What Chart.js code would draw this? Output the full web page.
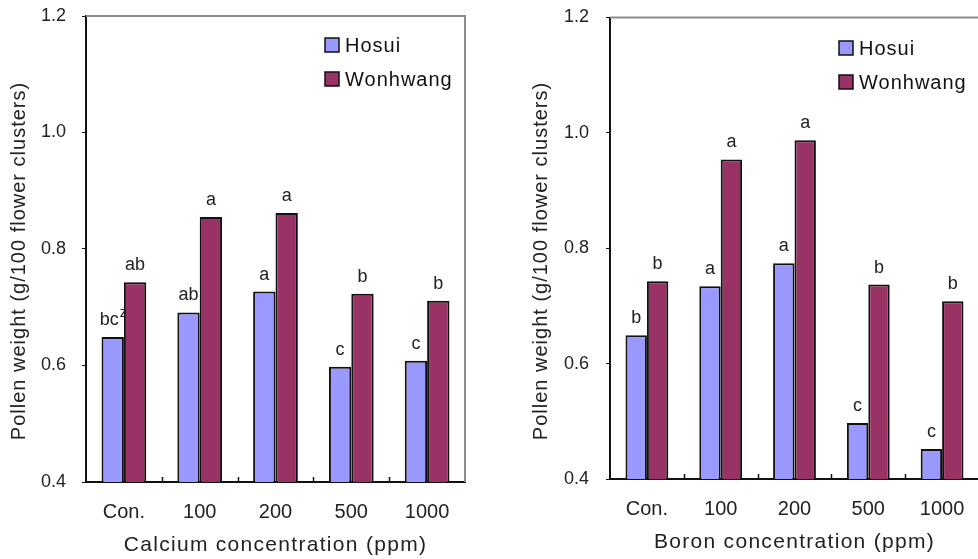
<!DOCTYPE html>
<html>
<head>
<meta charset="utf-8">
<script src="https://cdn.jsdelivr.net/npm/chart.js@4"></script>
<style>
  html, body { margin: 0; padding: 0; background: #fff; overflow: hidden; width: 978px; height: 559px; }
  #left { position: absolute; left: 0; top: 0; width: 472px; height: 559px; }
  #right { position: absolute; left: 500px; top: 0; width: 486px; height: 559px; }
</style>
</head>
<body>
<div id="left"><canvas id="calcium"></canvas></div>
<div id="right"><canvas id="boron"></canvas></div>
<script>
// categories and tick labels
const categories = ["Con.", "100", "200", "500", "1000"];
const yTicks = [0.4, 0.6, 0.8, 1.0, 1.2];
const seriesNames = ["Hosui", "Wonhwang"];

// calcium panel
const calciumHosui = [0.649, 0.691, 0.727, 0.598, 0.608];
const calciumWonhwang = [0.743, 0.855, 0.862, 0.723, 0.711];
const calciumHosuiLetters = ["bc", "ab", "a", "c", "c"];
const calciumWonhwangLetters = ["ab", "a", "a", "b", "b"];
const calciumHosuiSup = ["z", "", "", "", ""];

// boron panel
const boronHosui = [0.649, 0.734, 0.774, 0.497, 0.452];
const boronWonhwang = [0.743, 0.954, 0.987, 0.737, 0.708];
const boronHosuiLetters = ["b", "a", "a", "c", "c"];
const boronWonhwangLetters = ["b", "a", "a", "b", "b"];

const FONT = "'Liberation Sans', Arial, sans-serif";
const INK = "#222";

// draws frame, separators, letters, legend and axis titles
function decor(cfg) {
  return {
    id: "decor",
    afterDraw(chart) {
      const ctx = chart.ctx;
      const area = chart.chartArea;
      const xs = chart.scales.x;
      ctx.save();

      // grey top/right frame
      ctx.strokeStyle = "#8c8c8c";
      ctx.lineWidth = 2;
      ctx.beginPath();
      ctx.moveTo(area.left, area.top);
      ctx.lineTo(area.right, area.top);
      ctx.lineTo(area.right, area.bottom);
      ctx.stroke();

      // small inward ticks between categories
      ctx.strokeStyle = "#111";
      ctx.lineWidth = 1.5;
      for (let i = 1; i < chart.data.labels.length; i++) {
        const px = Math.round((xs.getPixelForValue(i - 1) + xs.getPixelForValue(i)) / 2) + 0.5;
        ctx.beginPath();
        ctx.moveTo(px, area.bottom);
        ctx.lineTo(px, area.bottom - 5);
        ctx.stroke();
      }

      // significance letters
      ctx.fillStyle = INK;
      ctx.textBaseline = "alphabetic";
      chart.data.datasets.forEach((ds, d) => {
        const meta = chart.getDatasetMeta(d);
        const letters = cfg.letters[d];
        const sups = cfg.sups ? cfg.sups[d] : null;
        meta.data.forEach((bar, i) => {
          const txt = letters[i];
          const sup = sups ? sups[i] : "";
          ctx.font = "18px " + FONT;
          const w = ctx.measureText(txt).width;
          ctx.font = "14px " + FONT;
          const ws = sup ? ctx.measureText(sup).width : 0;
          const x0 = bar.x - (w + ws) / 2;
          const base = bar.y - 12;
          ctx.font = "18px " + FONT;
          ctx.textAlign = "left";
          ctx.fillText(txt, x0, base);
          if (sup) {
            ctx.font = "14px " + FONT;
            ctx.fillText(sup, x0 + w + 1, base - 8);
          }
        });
      });

      // legend inside the plot
      const lx = area.right - 140;
      chart.data.datasets.forEach((ds, d) => {
        const cy = area.top + cfg.legendY[d];
        ctx.fillStyle = ds.backgroundColor;
        ctx.fillRect(lx, cy - 7, 14, 14);
        ctx.strokeStyle = "#111";
        ctx.lineWidth = 1.5;
        ctx.strokeRect(lx, cy - 7, 14, 14);
        ctx.fillStyle = "#111";
        ctx.font = "20px " + FONT;
        ctx.letterSpacing = "1px";
        ctx.textAlign = "left";
        ctx.textBaseline = "middle";
        ctx.fillText(ds.label, lx + 20, cy + 1);
      });

      // axis titles
      ctx.fillStyle = INK;
      ctx.textAlign = "center";
      ctx.textBaseline = "middle";
      ctx.font = "21px " + FONT;
      ctx.letterSpacing = "1.3px";
      ctx.fillText(cfg.xTitle, (area.left + area.right) / 2, cfg.xTitleY);

      ctx.font = "20px " + FONT;
      ctx.letterSpacing = "1px";
      ctx.translate(cfg.yTitleX, cfg.yTitleY);
      ctx.rotate(-Math.PI / 2);
      ctx.fillText("Pollen weight (g/100 flower clusters)", 0, 0);

      ctx.restore();
    }
  };
}

function makeChart(id, hosui, wonhwang, opts) {
  return new Chart(document.getElementById(id), {
    type: "bar",
    data: {
      labels: categories,
      datasets: [
        {
          label: seriesNames[0],
          data: hosui,
          backgroundColor: "#9999FF",
          borderColor: "#111",
          borderWidth: 2,
          categoryPercentage: opts.catPct,
          barPercentage: 1.0,
        },
        {
          label: seriesNames[1],
          data: wonhwang,
          backgroundColor: "#993366",
          borderColor: "#111",
          borderWidth: 2,
          categoryPercentage: opts.catPct,
          barPercentage: 1.0,
        },
      ],
    },
    options: {
      responsive: true,
      maintainAspectRatio: false,
      animation: false,
      layout: { padding: { top: opts.top, right: 7, left: 0, bottom: 0 } },
      plugins: { legend: { display: false }, tooltip: { enabled: false } },
      scales: {
        x: {
          grid: { display: true, drawOnChartArea: false, drawTicks: false },
          border: { color: "#111", width: 2 },
          ticks: { color: INK, font: { family: FONT, size: 20 }, padding: 18 },
          afterFit(scale) { scale.height = opts.xHeight; },
        },
        y: {
          min: yTicks[0],
          max: yTicks[yTicks.length - 1],
          afterBuildTicks(scale) { scale.ticks = yTicks.map(v => ({ value: v })); },
          grid: { drawOnChartArea: false, tickLength: 4, color: "#111" },
          border: { color: "#111", width: 2 },
          ticks: {
            color: INK,
            font: { family: FONT, size: 18 },
            padding: opts.yPad,
            callback: v => Number(v).toFixed(1),
          },
          afterFit(scale) {
            scale.width = opts.yWidth;
            scale.paddingTop = 0;
            scale.paddingBottom = 0;
          },
        },
      },
    },
    plugins: [decor(opts)],
  });
}

makeChart("calcium", calciumHosui, calciumWonhwang, {
  catPct: 0.59, top: 16, xHeight: 77, yWidth: 86, yPad: 16,
  letters: [calciumHosuiLetters, calciumWonhwangLetters],
  sups: [calciumHosuiSup, ["", "", "", "", ""]],
  legendY: [29, 63],
  xTitle: "Calcium concentration (ppm)", xTitleY: 545,
  yTitleX: 19.5, yTitleY: 261,
});

makeChart("boron", boronHosui, boronWonhwang, {
  catPct: 0.58, top: 17.5, xHeight: 80, yWidth: 110, yPad: 17,
  letters: [boronHosuiLetters, boronWonhwangLetters],
  sups: null,
  legendY: [30.5, 64.5],
  xTitle: "Boron concentration (ppm)", xTitleY: 542,
  yTitleX: 41, yTitleY: 261,
});
</script>
</body>
</html>
